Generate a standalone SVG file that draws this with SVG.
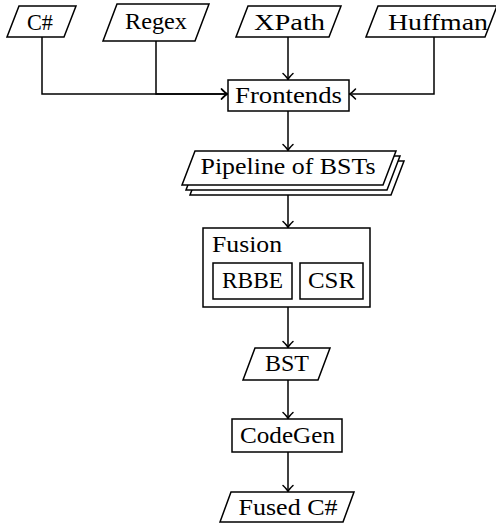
<svg xmlns="http://www.w3.org/2000/svg" width="496" height="524" viewBox="0 0 496 524">
<style>
.s{fill:#fff;stroke:#000;stroke-width:1.5;stroke-linejoin:miter}
.c{fill:none;stroke:#000;stroke-width:1.5}
text{font-family:'Liberation Serif','DejaVu Serif',serif;font-size:24px;fill:#000}
.m{text-anchor:middle}
</style>
<defs>
<marker id="arr" markerUnits="userSpaceOnUse" viewBox="-7 -6 8 12" refX="0" refY="0" markerWidth="8" markerHeight="12" orient="auto" overflow="visible">
<path d="M-6,-5 Q-2,-0.8 0,0 Q-2,0.8 -6,5" fill="none" stroke="#000" stroke-width="1.5" stroke-linecap="round"/>
</marker>
</defs>
<rect width="496" height="524" fill="#fff"/>
<g id="connectors">
<path class="c" d="M42,37 V94 H227.5" marker-end="url(#arr)"/>
<path class="c" d="M156,41 V94 H227.5" marker-end="url(#arr)"/>
<path class="c" d="M288,37 V79.5" marker-end="url(#arr)"/>
<path class="c" d="M434,37 V94 H349.5" marker-end="url(#arr)"/>
<path class="c" d="M288,111 V150.5" marker-end="url(#arr)"/>
<path class="c" d="M288,195 V227.5" marker-end="url(#arr)"/>
<path class="c" d="M288,307 V347.5" marker-end="url(#arr)"/>
<path class="c" d="M288,380 V418.5" marker-end="url(#arr)"/>
<path class="c" d="M288,452 V491.5" marker-end="url(#arr)"/>
</g>
<g id="csharp">
<polygon class="s" points="19,6 76,6 64,37 7,37"/>
<text class="m" x="40" y="29.5" textLength="26" lengthAdjust="spacingAndGlyphs">C#</text>
</g>
<g id="regex">
<polygon class="s" points="117,4 209,4 195,41 103,41"/>
<text class="m" x="156" y="29" textLength="62" lengthAdjust="spacingAndGlyphs">Regex</text>
</g>
<g id="xpath">
<polygon class="s" points="248,6 341,6 329,37 236,37"/>
<text class="m" x="289.5" y="29.5" textLength="71" lengthAdjust="spacingAndGlyphs">XPath</text>
</g>
<g id="huffman">
<polygon class="s" points="378,6 497,6 485,37 366,37"/>
<text class="m" x="438" y="29.5" textLength="100" lengthAdjust="spacingAndGlyphs">Huffman</text>
</g>
<g id="frontends">
<rect class="s" x="228" y="80" width="121" height="31"/>
<text class="m" x="288.5" y="103" textLength="107" lengthAdjust="spacingAndGlyphs">Frontends</text>
</g>
<g id="pipeline">
<polygon class="s" points="203,161 404,161 391,195 190,195"/>
<polygon class="s" points="199,156 400,156 387,190 186,190"/>
<polygon class="s" points="195,151 396,151 383,185 182,185"/>
<text class="m" x="288" y="174" textLength="175" lengthAdjust="spacingAndGlyphs">Pipeline of BSTs</text>
</g>
<g id="fusion">
<rect class="s" x="203" y="228" width="167" height="79"/>
<text x="212" y="252" textLength="70" lengthAdjust="spacingAndGlyphs">Fusion</text>
</g>
<g id="rbbe">
<rect class="s" x="213" y="263" width="79" height="36"/>
<text class="m" x="252.5" y="288" textLength="61" lengthAdjust="spacingAndGlyphs">RBBE</text>
</g>
<g id="csr">
<rect class="s" x="300" y="263" width="63" height="36"/>
<text class="m" x="331.5" y="288" textLength="47" lengthAdjust="spacingAndGlyphs">CSR</text>
</g>
<g id="bst">
<polygon class="s" points="255,348 330,348 318,380 243,380"/>
<text class="m" x="287" y="371" textLength="44" lengthAdjust="spacingAndGlyphs">BST</text>
</g>
<g id="codegen">
<rect class="s" x="232" y="419" width="110" height="33"/>
<text class="m" x="287.5" y="443" textLength="95" lengthAdjust="spacingAndGlyphs">CodeGen</text>
</g>
<g id="fusedcs">
<polygon class="s" points="231,492 354,492 343,522 220,522"/>
<text class="m" x="288" y="515" textLength="99" lengthAdjust="spacingAndGlyphs">Fused C#</text>
</g>
</svg>
